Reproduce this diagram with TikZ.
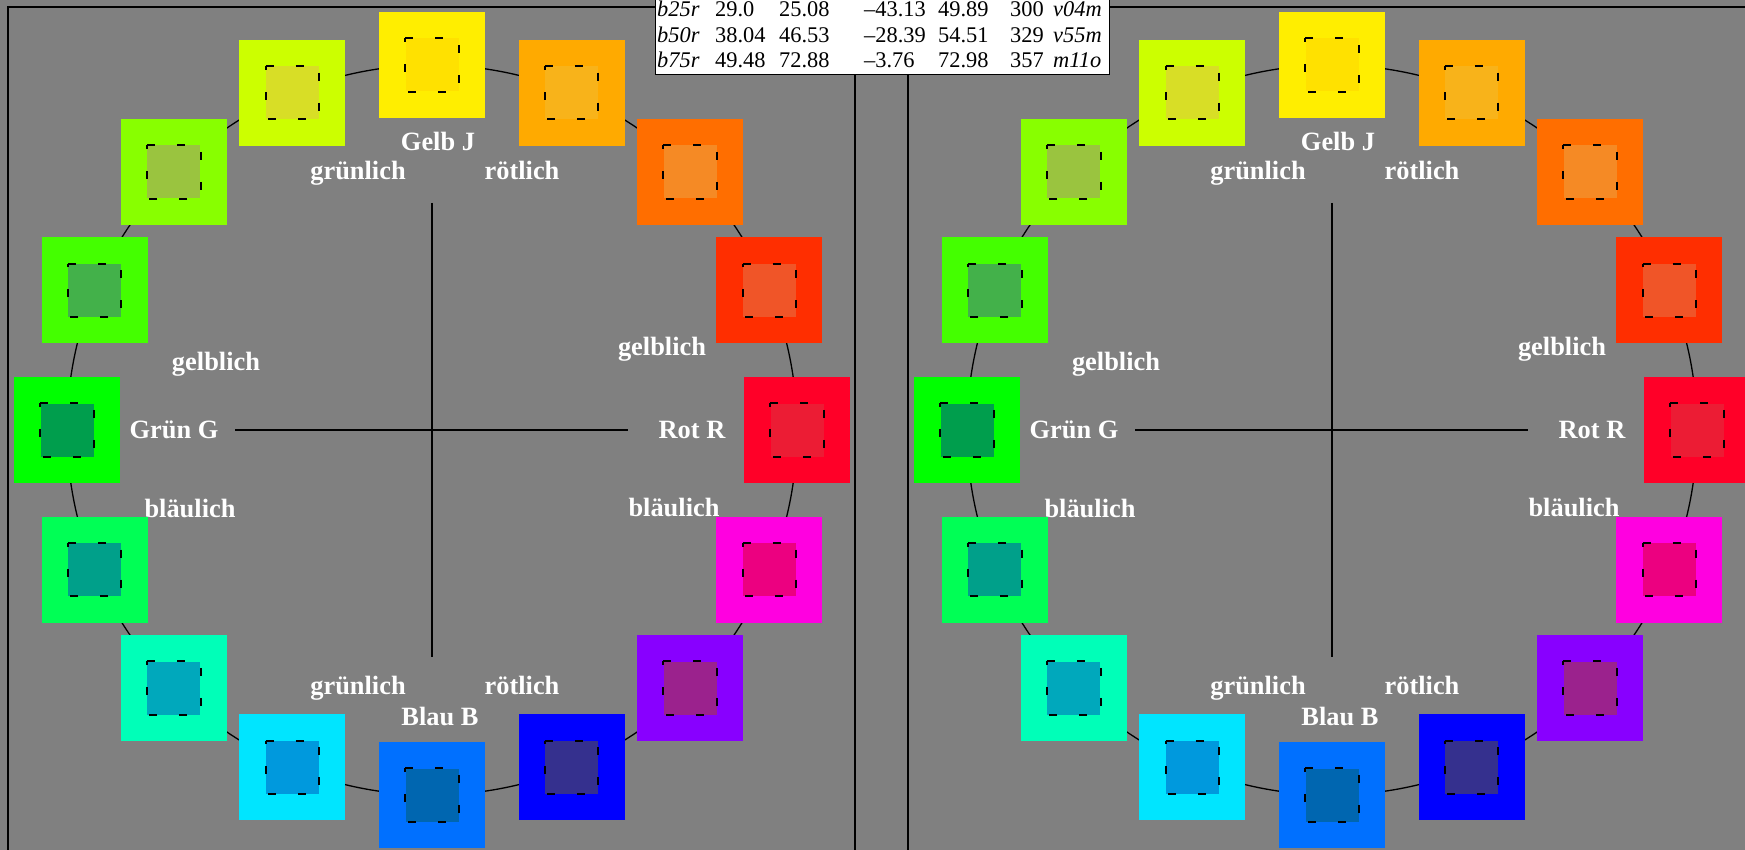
\documentclass[tikz,border=0pt]{standalone}
\usepackage{fontspec}
\setmainfont{Liberation Serif}
\definecolor{bg}{HTML}{808080}
\definecolor{o0}{HTML}{FF0028}\definecolor{i0}{HTML}{EC1C34}
\definecolor{o1}{HTML}{FF2E00}\definecolor{i1}{HTML}{F05528}
\definecolor{o2}{HTML}{FF6E00}\definecolor{i2}{HTML}{F58A25}
\definecolor{o3}{HTML}{FFAA00}\definecolor{i3}{HTML}{F8B31A}
\definecolor{o4}{HTML}{FFEE00}\definecolor{i4}{HTML}{FFE100}
\definecolor{o5}{HTML}{CCFF00}\definecolor{i5}{HTML}{D8DE26}
\definecolor{o6}{HTML}{88FF00}\definecolor{i6}{HTML}{9AC43F}
\definecolor{o7}{HTML}{44FF00}\definecolor{i7}{HTML}{43B14A}
\definecolor{o8}{HTML}{00FF00}\definecolor{i8}{HTML}{009E4D}
\definecolor{o9}{HTML}{00FF55}\definecolor{i9}{HTML}{00A08A}
\definecolor{o10}{HTML}{00FFB8}\definecolor{i10}{HTML}{00A8BC}
\definecolor{o11}{HTML}{00E5FF}\definecolor{i11}{HTML}{0099DD}
\definecolor{o12}{HTML}{0070FF}\definecolor{i12}{HTML}{0066B0}
\definecolor{o13}{HTML}{0000FF}\definecolor{i13}{HTML}{35308E}
\definecolor{o14}{HTML}{8800FF}\definecolor{i14}{HTML}{9B228D}
\definecolor{o15}{HTML}{FF00E0}\definecolor{i15}{HTML}{EC0080}
\begin{document}
\begin{tikzpicture}[x=1pt,y=-1pt,
  outersq/.style={rectangle, minimum size=106pt, inner sep=0pt, draw=none},
  innersq/.style={rectangle, minimum size=53pt, inner sep=0pt, draw=none},
  dashbox/.style={line width=2pt, dash pattern=on 8pt off 22pt},
  lab/.style={text=white, font=\fontsize{26.4}{30}\selectfont\bfseries, anchor=base, inner sep=0pt},
  tab/.style={font=\fontsize{22.4}{26}\selectfont, anchor=base west, inner sep=0pt},
  framel/.style={line width=1.5pt},
  thinl/.style={line width=1.3pt}]
\useasboundingbox (0,0) rectangle (1745,850);
\clip (0,0) rectangle (1745,850);
\fill[bg] (0,0) rectangle (1745,850);
\draw[framel] (8,870) -- (8,7) -- (855,7) -- (855,870);
\draw[framel] (908,870) -- (908,7) -- (1770,7);
\foreach \p/\dx in {L/0,R/900}{
  \coordinate (\p c) at ({432+\dx},430);
  \coordinate (\p vt) at ({432+\dx},203);
  \coordinate (\p vb) at ({432+\dx},657);
  \coordinate (\p hl) at ({235+\dx},430);
  \coordinate (\p hr) at ({628+\dx},430);
  \draw[thinl] (\p c) circle[radius=365];
  \draw[thinl] (\p vt) -- (\p vb);
  \draw[thinl] (\p hl) -- (\p hr);
  \foreach \k in {0,...,15}{
    \pgfmathsetmacro\ang{22.5*\k}
    \node[outersq, fill=o\k] (\p o\k) at ({432+\dx+365*cos(\ang)},{430-365*sin(\ang)}) {};
    \node[innersq, fill=i\k] (\p i\k) at (\p o\k) {};
    \draw[dashbox] (\p i\k.north west) -- (\p i\k.north east) -- (\p i\k.south east) -- (\p i\k.south west) -- cycle;
  }
  \node[lab] (\p gelb) at ({438+\dx},151) {Gelb J};
  \node[lab] (\p gt) at ({358+\dx},180) {grünlich};
  \node[lab] (\p rt) at ({522+\dx},180) {rötlich};
  \node[lab] (\p gl) at ({216+\dx},370) {gelblich};
  \node[lab] (\p gr) at ({662+\dx},355) {gelblich};
  \node[lab] (\p gruen) at ({174+\dx},438) {Grün G};
  \node[lab] (\p rot) at ({692+\dx},438) {Rot R};
  \node[lab] (\p bl) at ({190+\dx},517) {bläulich};
  \node[lab] (\p br) at ({674+\dx},516) {bläulich};
  \node[lab] (\p gb) at ({358+\dx},694) {grünlich};
  \node[lab] (\p rb) at ({522+\dx},694) {rötlich};
  \node[lab] (\p blau) at ({440+\dx},725) {Blau B};
}
\filldraw[fill=white, draw=black, line width=1pt] (655,-5) rectangle (1109,75);
\foreach \r/\y/\a/\b/\c/\d/\e/\f/\g in {1/17/b25r/29.0/25.08/–43.13/49.89/300/v04m,
  2/42.5/b50r/38.04/46.53/–28.39/54.51/329/v55m,
  3/67.5/b75r/49.48/72.88/–3.76/72.98/357/m11o}{
  \node[tab] (t\r a) at (657,\y) {\itshape \a};
  \node[tab] (t\r b) at (715,\y) {\b};
  \node[tab] (t\r c) at (779,\y) {\c};
  \node[tab] (t\r d) at (864,\y) {\d};
  \node[tab] (t\r e) at (938,\y) {\e};
  \node[tab] (t\r f) at (1010,\y) {\f};
  \node[tab] (t\r g) at (1053,\y) {\itshape \g};
}
\end{tikzpicture}
\end{document}
